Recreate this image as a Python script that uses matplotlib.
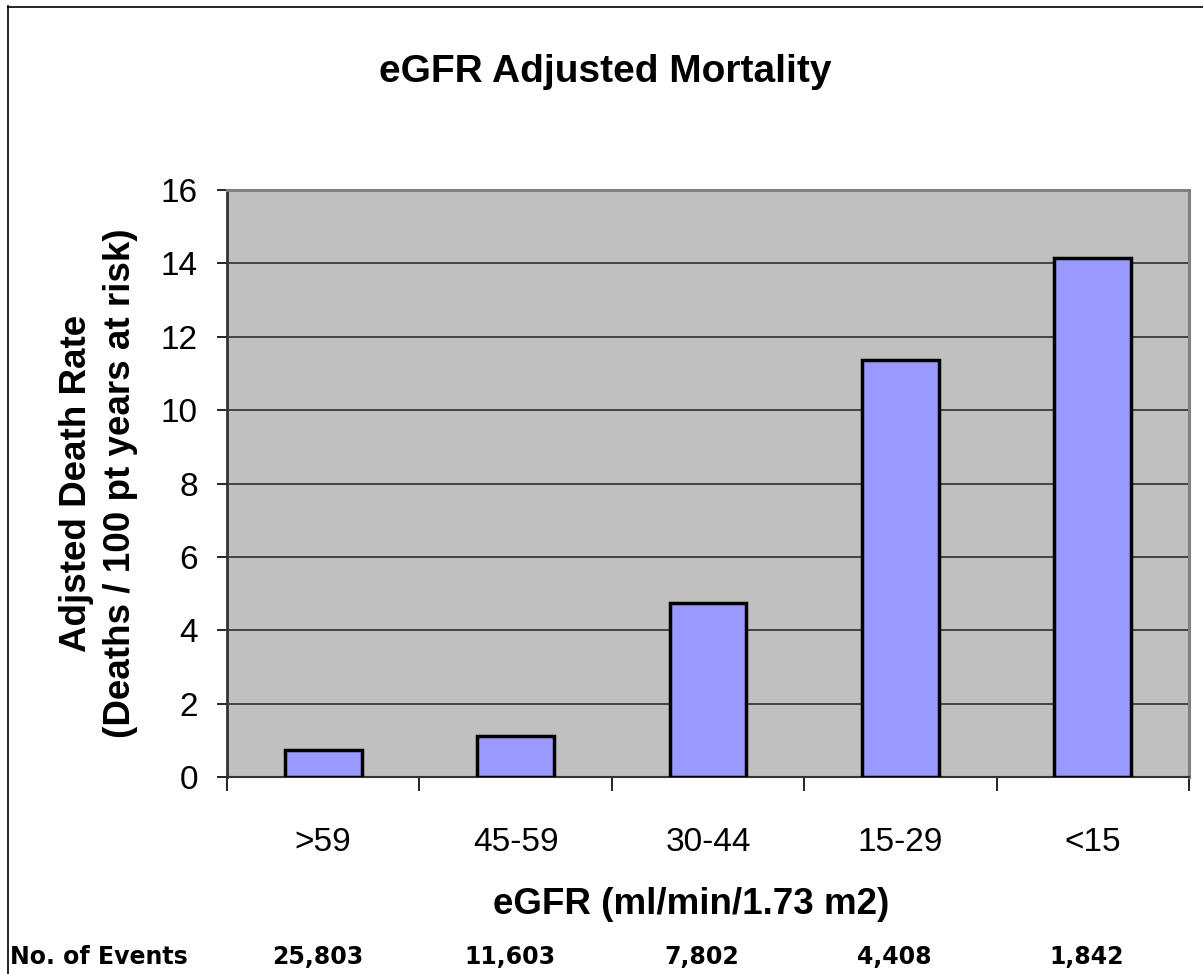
import numpy as np
import matplotlib; matplotlib.use("Agg"); import matplotlib.pyplot as plt
from matplotlib.lines import Line2D
import matplotlib.transforms as mtransforms

categories = [">59", "45-59", "30-44", "15-29", "<15"]
death_rate = [0.74, 1.12, 4.75, 11.37, 14.15]
events = ["25,803", "11,603", "7,802", "4,408", "1,842"]
yticks = [0, 2, 4, 6, 8, 10, 12, 14, 16]

plt.rcParams['font.family'] = ['Liberation Sans', 'DejaVu Sans']
BAR = '#9999FF'; BG = '#C0C0C0'

fig = plt.figure(figsize=(12.03, 9.74), dpi=100)
ax = fig.add_axes([227/1203, 1-777/974, (1189-227)/1203, (777-190)/974])
ax.set_facecolor(BG)
x = np.arange(len(categories))
ax.bar(x, death_rate, width=0.4, color=BAR, edgecolor='black', linewidth=2.5, zorder=3)
ax.set_xlim(-0.5, 4.5); ax.set_ylim(0, 16)
ax.set_yticks(yticks)
ax.yaxis.grid(True, color='#222222', linewidth=1.1, zorder=1)
ax.set_axisbelow(True)
ax.tick_params(axis='y', direction='out', length=7, width=1.2, color='black', labelsize=24, pad=14)
ax.set_xticks(x); ax.set_xticklabels(categories)
ax.set_xticks(np.arange(-0.5, 5, 1), minor=True)
ax.tick_params(axis='x', which='major', length=0, labelsize=24, pad=36)
ax.tick_params(axis='x', which='minor', direction='out', length=10, width=1.2, color='black')
for s in ['top', 'right']:
    ax.spines[s].set_color('#808080'); ax.spines[s].set_linewidth(2.2)
ax.spines['left'].set_color('#333333'); ax.spines['left'].set_linewidth(2.0)
ax.spines['bottom'].set_color('#333333'); ax.spines['bottom'].set_linewidth(1.5)

ax.set_ylabel("Adjsted Death Rate\n(Deaths / 100 pt years at risk)", fontsize=26.5,
              fontweight='bold', labelpad=16, linespacing=1.35)
fig.text(605/1203, 1-72/974, "eGFR Adjusted Mortality", fontsize=28, fontweight='bold',
         ha='center', va='center')
fig.text(691/1203, 1-905/974, "eGFR (ml/min/1.73 m2)", fontsize=26.5, fontweight='bold',
         ha='center', va='center')

# events row under the axis
trans = mtransforms.blended_transform_factory(ax.transData, fig.transFigure)
fig.text(10/1203, 1-957/974, "No. of Events", fontsize=17, fontweight='bold',
         family='DejaVu Sans', ha='left', va='center')
for xi, ev in zip(x, events):
    fig.text(xi - 0.03, 1-957/974, ev, transform=trans, fontsize=17, fontweight='bold',
             family='DejaVu Sans', ha='center', va='center')

# outer chart border (left and top only visible)
fig.add_artist(Line2D([7.5/1203, 7.5/1203], [0, 1-6/974], transform=fig.transFigure, color='black', lw=1.2))
fig.add_artist(Line2D([7.5/1203, 1], [1-6.5/974, 1-6.5/974], transform=fig.transFigure, color='black', lw=1.2))

fig.savefig("out.png", dpi=100, facecolor='white')
